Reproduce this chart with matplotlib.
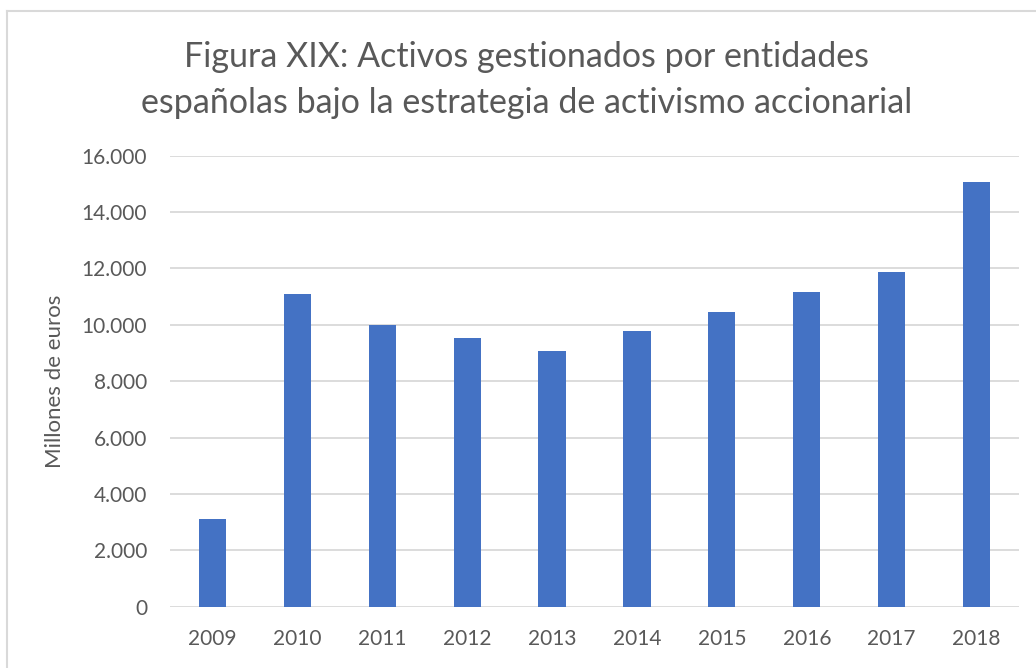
import matplotlib
matplotlib.use("Agg")
import matplotlib.pyplot as plt
from matplotlib.lines import Line2D
from matplotlib.ticker import FuncFormatter

years = ["2009", "2010", "2011", "2012", "2013", "2014", "2015", "2016", "2017", "2018"]
activos = [3110, 11080, 10000, 9540, 9080, 9770, 10440, 11160, 11870, 15070]
y_ticks = [0, 2000, 4000, 6000, 8000, 10000, 12000, 14000, 16000]

plt.rcParams["font.family"] = ["Lato", "DejaVu Sans"]
W, H = 1036, 668
fig = plt.figure(figsize=(W / 100, H / 100), dpi=100)

# marco del gráfico (solo arriba e izquierda, el resto queda recortado)
borde = "#d9d9d9"
fig.lines.append(Line2D([7 / W, 1], [1 - 11 / H, 1 - 11 / H], transform=fig.transFigure,
                        color=borde, linewidth=1.5))
fig.lines.append(Line2D([7 / W, 7 / W], [0, 1 - 11 / H], transform=fig.transFigure,
                        color=borde, linewidth=1.5))

ax = fig.add_axes([170 / W, 1 - 606.7 / H, (1019 - 170) / W, (606.7 - 155.7) / H])
x = range(len(years))
ax.bar(x, activos, width=0.32, color="#4472c4", zorder=3)

ax.set_xlim(-0.5, len(years) - 0.5)
ax.set_ylim(0, 16000)
ax.set_yticks(y_ticks)
ax.yaxis.set_major_formatter(FuncFormatter(lambda v, p: f"{int(v):,}".replace(",", ".")))
ax.set_xticks(list(x))
ax.set_xticklabels(years)
ax.tick_params(length=0, labelsize=15, labelcolor="#595959")
ax.tick_params(axis="y", pad=16.5)
ax.tick_params(axis="x", pad=16)
ax.grid(axis="y", color="#d9d9d9", linewidth=1.3, zorder=0)
for s in ax.spines.values():
    s.set_visible(False)

ax.set_ylabel("Millones de euros", fontsize=16, color="#595959", labelpad=12)

fig.text(527 / W, 1 - 57 / H, "Figura XIX: Activos gestionados por entidades",
         ha="center", va="center", fontsize=24.5, color="#595959")
fig.text(527 / W, 1 - 103 / H, "españolas bajo la estrategia de activismo accionarial",
         ha="center", va="center", fontsize=24.5, color="#595959")

fig.savefig("out.png", dpi=100)
